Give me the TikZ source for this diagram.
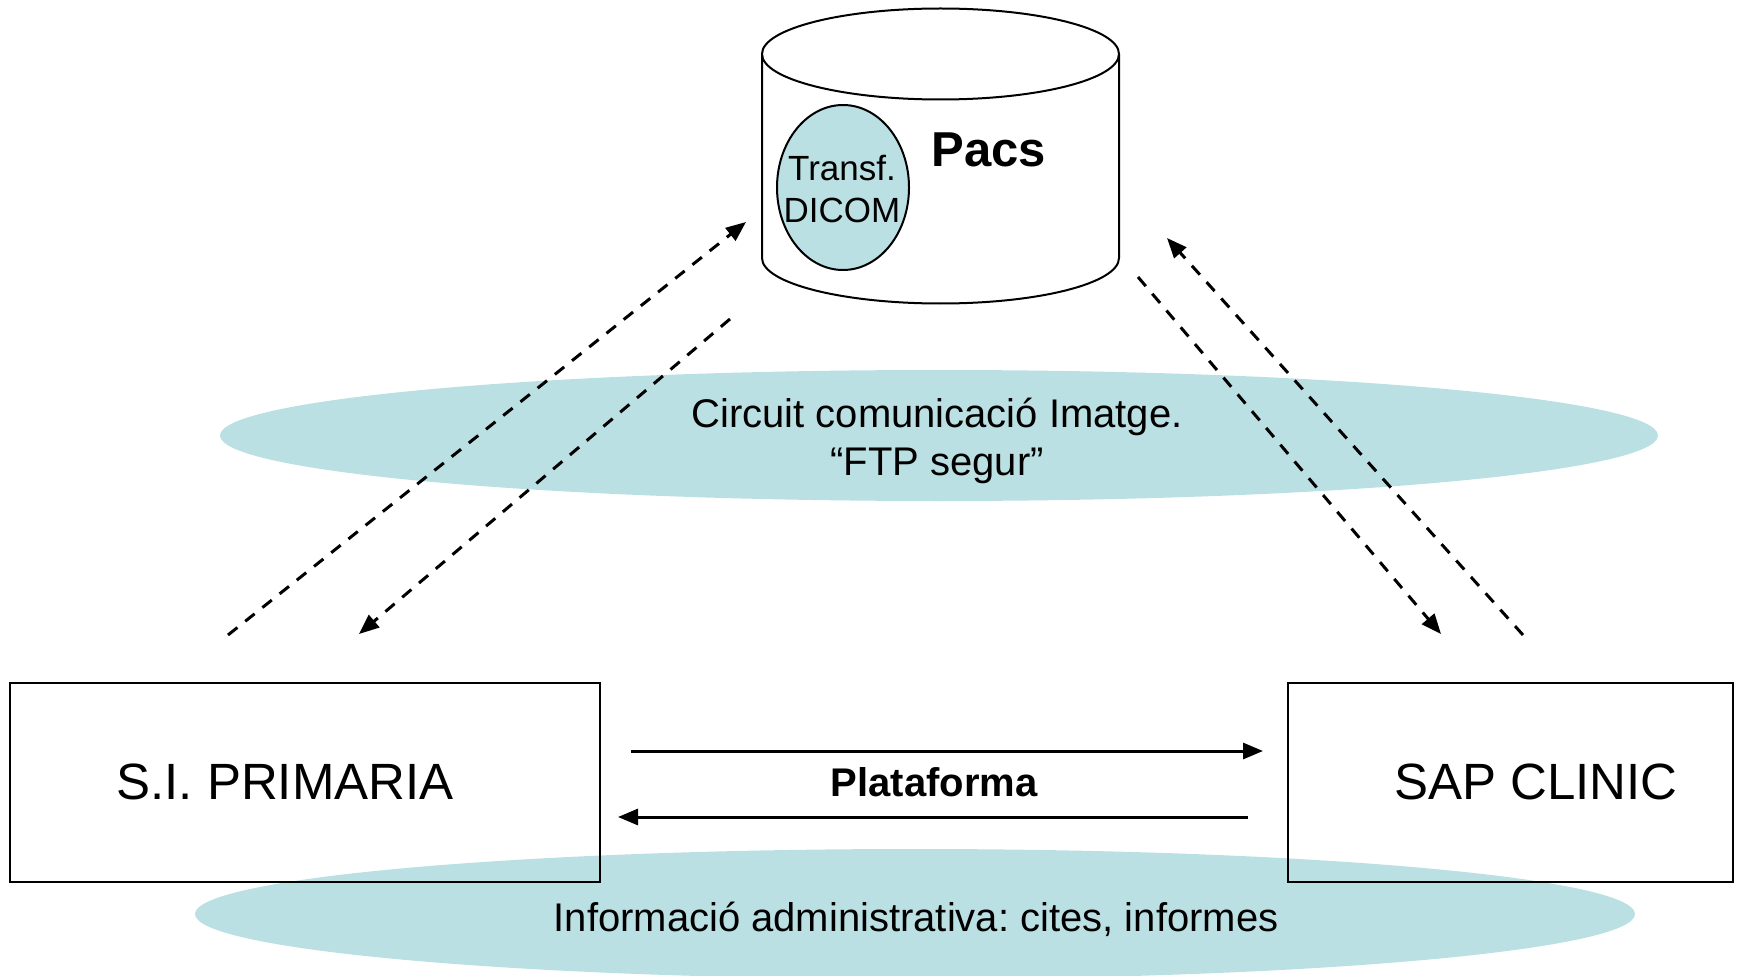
\documentclass[tikz,border=0pt]{standalone}
\usepackage{fontspec}
\setmainfont{Liberation Sans}
\usetikzlibrary{arrows.meta,shapes.geometric}
\definecolor{lightteal}{HTML}{BBE0E3}
\frenchspacing
\begin{document}
\begin{tikzpicture}[x=1pt,y=-1pt,
  blob/.style={ellipse, fill=lightteal, draw=none, inner sep=0pt},
  sysbox/.style={draw, line width=2pt, inner sep=0pt, minimum height=199pt},
  dasharrow/.style={line width=3pt, dash pattern=on 12pt off 10pt, -{Triangle[length=20pt,width=16pt]}},
  solidarrow/.style={line width=3pt, -{Triangle[length=20pt,width=16pt]}},
  bigtxt/.style={font=\fontsize{40}{48}\selectfont, align=center, inner sep=0pt},
  boxtxt/.style={font=\fontsize{51}{60}\selectfont, inner sep=0pt}
]
\useasboundingbox (0,0) rectangle (1737,976);

% background ellipses
\node[blob, minimum width=1438pt, minimum height=131pt] (circuit) at (939,435.5) {};
\node[blob, minimum width=1440pt, minimum height=130pt] (admin) at (915,914) {};

\node[bigtxt] (circuittxt) at (937,441) {Circuit comunicació Imatge.\\“FTP segur”};
\node[bigtxt] (admintxt) at (916,919) {Informació administrativa: cites, informes};

% cylinder (Pacs)
\draw[line width=2pt, fill=white] (762,54) -- (762,258)
  arc[start angle=180, end angle=360, x radius=178.5pt, y radius=45.5pt] -- (1119,54);
\draw[line width=2pt, fill=white] (940.5,54) ellipse [x radius=178.5pt, y radius=45.5pt];
\node[ellipse, draw, line width=2pt, fill=lightteal, minimum width=132pt, minimum height=165pt, inner sep=0pt] (dicom) at (843,187.5) {};
\node[font=\fontsize{35}{42}\selectfont, align=center, inner sep=0pt] (dicomtxt) at (842,189) {Transf.\\DICOM};
\node[font=\fontsize{49}{58}\selectfont\bfseries, inner sep=0pt] (pacs) at (989,150) {Pacs};

% system boxes
\node[sysbox, minimum width=590pt] (primaria) at (305,782.5) {};
\node[sysbox, minimum width=445pt] (sap) at (1510.5,782.5) {};
\node[boxtxt] (primariatxt) at (285,782) {S.I. PRIMARIA};
\node[boxtxt] (saptxt) at (1536,782) {SAP CLINIC};

% plataforma
\coordinate (p1s) at (631,751);
\coordinate (p1e) at (1263,751);
\coordinate (p2s) at (1248,817);
\coordinate (p2e) at (618,817);
\draw[solidarrow] (p1s) -- (p1e);
\draw[solidarrow] (p2s) -- (p2e);
\node[font=\fontsize{40}{48}\selectfont\bfseries, inner sep=0pt] (plat) at (934,782) {Plataforma};

% dashed image circuit arrows
\coordinate (a1s) at (228,635);
\coordinate (a1e) at (746,222);
\coordinate (a2s) at (730,319);
\coordinate (a2e) at (359,634);
\coordinate (a3s) at (1138,277);
\coordinate (a3e) at (1441,634);
\coordinate (a4s) at (1523,635);
\coordinate (a4e) at (1167,238);
\draw[dasharrow] (a1s) -- (a1e);
\draw[dasharrow] (a2s) -- (a2e);
\draw[dasharrow] (a3s) -- (a3e);
\draw[dasharrow] (a4s) -- (a4e);
\end{tikzpicture}
\end{document}
